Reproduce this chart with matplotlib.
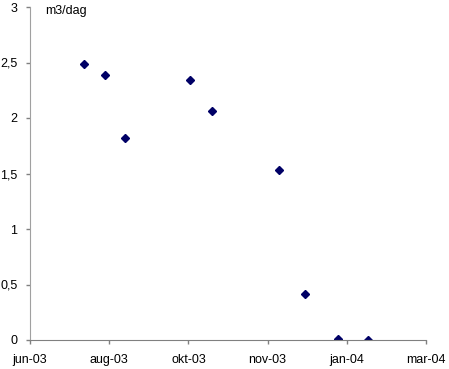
import matplotlib
matplotlib.use("Agg")
import matplotlib.pyplot as plt
import matplotlib.dates as mdates
from matplotlib.ticker import FuncFormatter
import datetime as dt

dates = ["2003-07-14", "2003-07-30", "2003-08-14", "2003-10-02", "2003-10-19",
         "2003-12-09", "2003-12-28", "2004-01-22", "2004-02-14"]
values = [2.49, 2.39, 1.82, 2.34, 2.06, 1.53, 0.41, 0.01, 0.0]
month_names = ["jan", "feb", "mar", "apr", "mai", "jun", "jul", "aug", "sep", "okt", "nov", "des"]
y_ticks = [0, 0.5, 1, 1.5, 2, 2.5, 3]
y_label = "m3/dag"

plt.rcParams['font.family'] = ['Liberation Sans', 'DejaVu Sans']

fig = plt.figure(figsize=(4.49, 3.69), dpi=100)
ax = fig.add_axes([30/449, 29/369, 396/449, 333/369])

x = [mdates.date2num(dt.datetime.strptime(d, "%Y-%m-%d")) for d in dates]
ax.plot(x, values, linestyle='none', marker='D', markersize=4,
        color='#000066', markeredgecolor='#000066')

start = mdates.date2num(dt.datetime(2003, 6, 3))
xt = [start + 60 * i for i in range(6)]
ax.set_xlim(xt[0], xt[-1])
ax.set_xticks(xt)

def fmt_date(v, pos):
    d = mdates.num2date(v)
    return f"{month_names[d.month-1]}-{d.year % 100:02d}"

ax.xaxis.set_major_formatter(FuncFormatter(fmt_date))
ax.set_ylim(0, 3)
ax.set_yticks(y_ticks)
ax.yaxis.set_major_formatter(FuncFormatter(lambda v, p: (f"{v:g}").replace('.', ',')))

for s in ['top', 'right']:
    ax.spines[s].set_visible(False)
ax.spines['left'].set_color('#a0a0a0')
ax.spines['bottom'].set_color('#808080')
ax.tick_params(axis='both', direction='out', length=3, width=1, colors='#808080',
               labelcolor='black', labelsize=9)
ax.tick_params(axis='x', pad=7)
ax.tick_params(axis='y', pad=6)

fig.text(45/449, 1 - 11/369, y_label, fontsize=9, ha='left', va='center')

fig.savefig("out.png", dpi=100)
